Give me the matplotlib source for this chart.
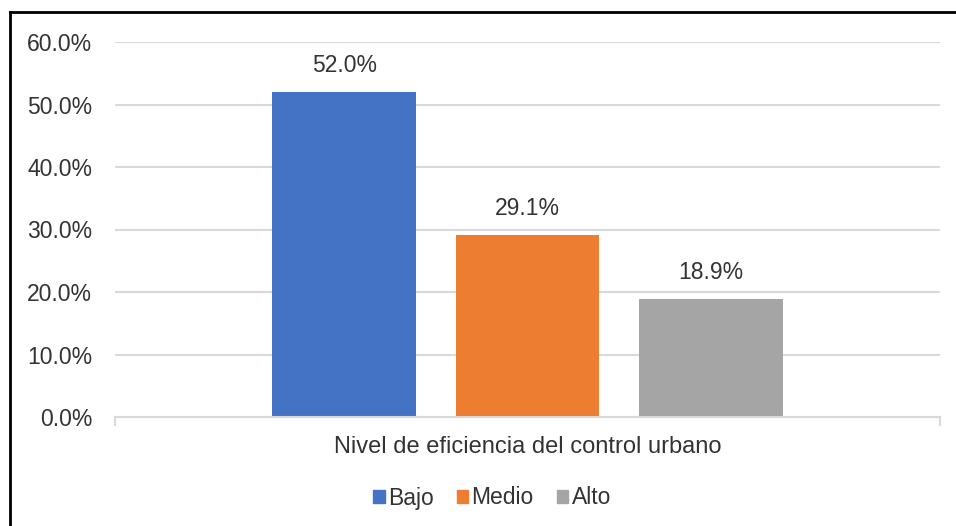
import matplotlib.pyplot as plt
from matplotlib.lines import Line2D
from matplotlib.patches import Patch

plt.rcParams['font.family'] = ['Liberation Sans', 'DejaVu Sans']

category = "Nivel de eficiencia del control urbano"
series_names = ["Bajo", "Medio", "Alto"]
series_values = [52.0, 29.1, 18.9]
series_colors = ["#4472C4", "#ED7D31", "#A5A5A5"]
y_ticks = [0, 10, 20, 30, 40, 50, 60]

txt = "#333333"
fs = 16.5

fig = plt.figure(figsize=(9.56, 5.26), dpi=100)
ax = fig.add_axes([115 / 956, 1 - 417 / 526, 825 / 956, 375 / 526])

bar_w = 0.1745
offsets = [-0.222, 0.0, 0.222]
for name, val, col, off in zip(series_names, series_values, series_colors, offsets):
    ax.bar(off, val, width=bar_w, color=col, label=name, zorder=3)
    ax.annotate(f"{val:.1f}%", (off, val), xytext=(0, 11), textcoords="offset points",
                ha="center", va="bottom", fontsize=fs, color=txt)

ax.set_xlim(-0.5, 0.5)
ax.set_ylim(0, 60)
ax.set_yticks(y_ticks)
ax.set_yticklabels([f"{t:.1f}%" for t in y_ticks], fontsize=fs, color=txt)
ax.tick_params(axis="y", length=0, pad=16.5)
ax.set_xticks([0])
ax.set_xticklabels([category], fontsize=17, color=txt)
ax.tick_params(axis="x", length=0, pad=14)
ax.grid(axis="y", color="#D9D9D9", linewidth=1.5, zorder=0)
for s in ["top", "right", "left"]:
    ax.spines[s].set_visible(False)
ax.spines["bottom"].set_color("#D9D9D9")
ax.spines["bottom"].set_linewidth(1.5)
ax.spines["bottom"].set_zorder(4)
# end tick marks on category axis
for x in [-0.5, 0.5]:
    ax.plot([x, x], [0, -1.2], color="#D9D9D9", linewidth=1.5, clip_on=False)

handles = [Patch(color=c, label=n) for n, c in zip(series_names, series_colors)]
fig.legend(handles=handles, loc="center", bbox_to_anchor=(492 / 956, 1 - 498 / 526),
           ncol=3, frameon=False, fontsize=fs, handlelength=0.5, handleheight=0.5,
           handletextpad=0.15, columnspacing=1.0, labelcolor=txt)

# outer frame (left and top visible)
fig.add_artist(Line2D([9.5 / 956, 9.5 / 956], [0, 1 - 12 / 526], color="black", linewidth=2))
fig.add_artist(Line2D([9.5 / 956, 1], [1 - 12 / 526, 1 - 12 / 526], color="black", linewidth=2))

fig.savefig("out.png", dpi=100)
